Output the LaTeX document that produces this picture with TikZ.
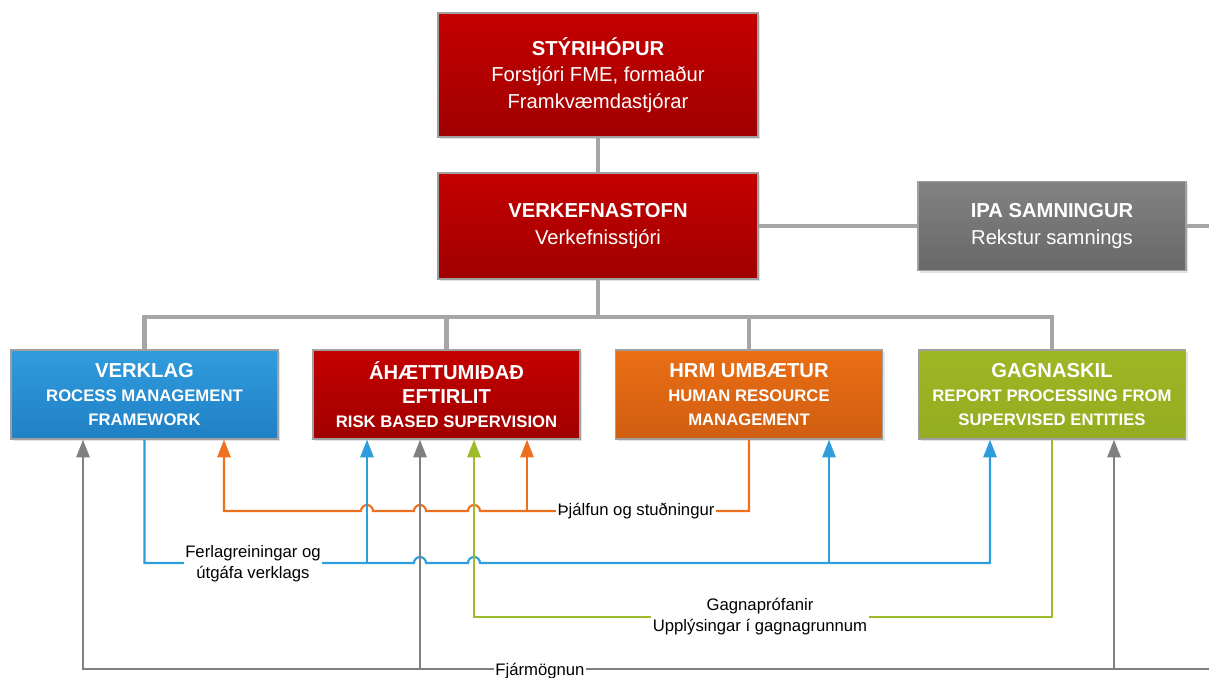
\documentclass[tikz,border=0pt]{standalone}
\usepackage{fontspec}
\setmainfont{Liberation Sans}
\usetikzlibrary{arrows.meta,shadows}
\definecolor{redtop}{RGB}{196,0,0}
\definecolor{redbot}{RGB}{160,0,0}
\definecolor{bluetop}{RGB}{48,156,222}
\definecolor{bluebot}{RGB}{32,128,196}
\definecolor{orangetop}{RGB}{234,110,20}
\definecolor{orangebot}{RGB}{208,94,18}
\definecolor{greentop}{RGB}{158,183,36}
\definecolor{greenbot}{RGB}{148,172,32}
\definecolor{graytop}{RGB}{130,130,130}
\definecolor{graybot}{RGB}{104,104,104}
\definecolor{boxline}{RGB}{160,160,160}
\definecolor{treeline}{RGB}{166,166,166}
\definecolor{oline}{RGB}{237,112,32}
\definecolor{bline}{RGB}{47,157,220}
\definecolor{eline}{RGB}{155,187,40}
\definecolor{gline}{RGB}{128,128,128}
\newcommand\boxhead[1]{{\fontsize{11.5}{13.5}\selectfont #1}}
\tikzset{
  box/.style={draw=boxline,line width=0.8pt,inner sep=0pt,text=white,align=center,
    drop shadow={shadow xshift=1.3pt,shadow yshift=-1.3pt,opacity=0.22}},
  topbox/.style={box,minimum width=6.4cm,font=\fontsize{11.5}{15}\selectfont},
  lowbox/.style={box,minimum width=5.34cm,minimum height=1.78cm,font=\bfseries\fontsize{9.5}{13.5}\selectfont},
  tree/.style={draw=treeline,line width=2.3pt},
  conn/.style={line width=1.2pt},
  lbl/.style={fill=white,inner sep=1pt,font=\fontsize{9.5}{12}\selectfont,align=center}
}

\begin{document}
\begin{tikzpicture}[x=0.02cm,y=0.02cm,>={Triangle[length=10pt,width=7.5pt]}]
  \useasboundingbox (0,0) rectangle (1209,-677);

  \node[topbox,top color=redtop,bottom color=redbot,minimum height=2.48cm] (styri) at (598,-75)
    {\textbf{STÝRIHÓPUR}\\Forstjóri FME, formaður\\Framkvæmdastjórar};
  \node[topbox,top color=redtop,bottom color=redbot,minimum height=2.12cm] (stofn) at (598,-226)
    {\textbf{VERKEFNASTOFN}\\Verkefnisstjóri};
  \node[topbox,top color=graytop,bottom color=graybot,minimum width=5.36cm,minimum height=1.78cm] (ipa) at (1052,-226)
    {\textbf{IPA SAMNINGUR}\\Rekstur samnings};

  \node[lowbox,top color=bluetop,bottom color=bluebot] (verklag) at (144.5,-394.5)
    {\boxhead{VERKLAG}\\ROCESS MANAGEMENT\\FRAMEWORK};
  \node[lowbox,top color=redtop,bottom color=redbot] (ahaettu) at (446.5,-394.5)
    {\boxhead{ÁHÆTTUMIÐAÐ}\\\boxhead{EFTIRLIT}\\RISK BASED SUPERVISION};
  \node[lowbox,top color=orangetop,bottom color=orangebot] (hrm) at (749,-394.5)
    {\boxhead{HRM UMBÆTUR}\\HUMAN RESOURCE\\MANAGEMENT};
  \node[lowbox,top color=greentop,bottom color=greenbot] (gagnaskil) at (1052,-394.5)
    {\boxhead{GAGNASKIL}\\REPORT PROCESSING FROM\\SUPERVISED ENTITIES};

  \coordinate (bus) at (598,-317);
  \coordinate (edgeA) at (1209,-226);
  \draw[tree] (styri) -- (stofn);
  \draw[tree] (stofn.east) -- (ipa.west);
  \draw[tree] (ipa.east) -- (edgeA);
  \draw[tree] (stofn.south) -- (bus);
  \draw[tree] (verklag.north) |- (bus) -| (gagnaskil.north);
  \draw[tree] (ahaettu.north) -- (ahaettu.north |- bus);
  \draw[tree] (hrm.north) -- (hrm.north |- bus);

  \coordinate (o1) at (224,-511);
  \coordinate (o2) at (527,-511);
  \draw[conn,oline,->] (hrm.south) |- (480,-511) arc[start angle=0,end angle=180,radius=6]
    -- (426,-511) arc[start angle=0,end angle=180,radius=6]
    -- (373,-511) arc[start angle=0,end angle=180,radius=6]
    -- (o1) -- (verklag.south -| o1);
  \draw[conn,oline,->] (o2) -- (ahaettu.south -| o2);

  \coordinate (b1) at (367,-563);
  \coordinate (b2) at (829,-563);
  \coordinate (b3) at (990,-563);
  \draw[conn,bline,->] (verklag.south) |- (414,-563) arc[start angle=180,end angle=0,radius=6]
    -- (468,-563) arc[start angle=180,end angle=0,radius=6]
    -- (b3) -- (gagnaskil.south -| b3);
  \draw[conn,bline,->] (b1) -- (ahaettu.south -| b1);
  \draw[conn,bline,->] (b2) -- (hrm.south -| b2);

  \coordinate (e1) at (474,-617);
  \draw[conn,eline,->] (gagnaskil.south) |- (e1) -- (ahaettu.south -| e1);

  \coordinate (edgeB) at (1209,-669);
  \coordinate (f1) at (83,-669);
  \coordinate (f2) at (420,-669);
  \coordinate (f3) at (1114,-669);
  \draw[conn,gline,->] (edgeB) -- (f1) -- (verklag.south -| f1);
  \draw[conn,gline,->] (f2) -- (ahaettu.south -| f2);
  \draw[conn,gline,->] (f3) -- (gagnaskil.south -| f3);

  \node[lbl] (thjalfun) at (636,-511) {Þjálfun og stuðningur};
  \node[lbl] (ferlag) at (253,-564) {Ferlagreiningar og\\útgáfa verklags};
  \node[lbl] (gagnapr) at (760,-617) {Gagnaprófanir\\Upplýsingar í gagnagrunnum};
  \node[lbl] (fjarmogn) at (540,-671) {Fjármögnun};
\end{tikzpicture}
\end{document}
